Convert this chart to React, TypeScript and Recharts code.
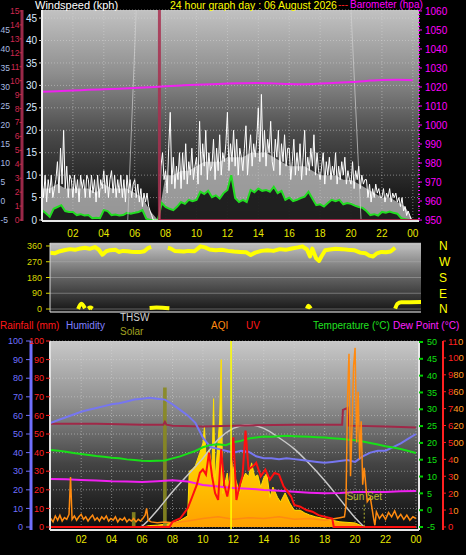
import React from "react";
import {
  ComposedChart,
  Line,
  Area,
  XAxis,
  YAxis,
  CartesianGrid,
  ReferenceLine,
  ReferenceArea,
} from "recharts";

const FONT = "'Liberation Sans', Arial, sans-serif";

// ---------- top panel: wind (kph) + barometer ----------
// gusts every 6 minutes
const gustKph = [
  9, 5, 10, 4, 9, 6, 10, 5, 7, 9, // 00
  13, 6, 16, 8, 20, 7, 12, 5, 10, 9, // 01
  5, 10, 6, 9, 4, 10, 7, 9, 5, 10, // 02
  9, 5, 10, 6, 9, 4, 10, 5, 9, 7, // 03
  11, 6, 10, 5, 9, 11, 6, 10, 5, 9, // 04
  6, 10, 5, 9, 4, 10, 6, 9, 5, 8, // 05
  9, 5, 8, 4, 7, 3, 6, 4, 6, 3, // 06
  2, 1, 0, 0, 0, 0, 0, 12, 15, 9, // 07
  11, 6, 16, 24, 8, 14, 7, 12, 9, 15, // 08
  7, 15, 9, 17, 8, 13, 10, 16, 9, 12, // 09
  14, 8, 22, 10, 17, 12, 20, 9, 15, 11, // 10
  12, 18, 9, 16, 11, 19, 10, 15, 13, 17, // 11
  24, 11, 17, 13, 20, 12, 18, 10, 16, 14, // 12
  11, 16, 21, 10, 15, 19, 12, 17, 14, 18, // 13
  25, 13, 28, 14, 20, 12, 18, 15, 22, 13, // 14
  11, 18, 14, 20, 10, 17, 13, 19, 12, 16, // 15
  16, 9, 13, 18, 10, 15, 11, 17, 9, 14, // 16
  20, 10, 14, 11, 16, 12, 19, 10, 15, 11, // 17
  9, 12, 15, 8, 13, 10, 14, 9, 12, 10, // 18
  15, 8, 12, 9, 13, 10, 14, 8, 11, 9, // 19
  8, 13, 7, 11, 9, 12, 7, 10, 8, 9, // 20
  9, 5, 8, 4, 7, 5, 8, 6, 7, 5, // 21
  5, 7, 4, 6, 5, 7, 4, 6, 5, 6, // 22
  4, 5, 3, 5, 2, 3, 1, 2, 1, 0, // 23
  0,
];
// wind speed every 30 minutes
const speedKph = [
  7, 7, 8, 7, 7, 7, 7, 6, 8, 7, 7, 7, 6, 5, 2, 0, 10, 10, 11, 11, 12, 13, 13, 13,
  14, 14, 14, 15, 15, 15, 14, 13, 12, 12, 12, 11, 10, 10, 10, 9, 9, 8, 7, 6, 5, 5,
  4, 3, 0,
];
// average wind every 15 minutes
const avgKph = [
  2.2, 1.5, 0.7, 2.5, 2.9, 3.3, 2.0, 1.8, 1.8, 1.1, 1.3, 1.0, 1.1, 0.4, 0.5, 0.4,
  2.2, 2.0, 1.1, 1.2, 1.0, 1.1, 1.6, 1.4, 1.6, 1.8, 2.2, 0.3, 0, 0, 0, 3.8,
  2.9, 2.5, 2.2, 3.0, 4.0, 3.6, 4.5, 4.2, 4.5, 6.3, 5.8, 6.5, 5.1, 5.5, 4.8, 6.0,
  6.7, 10.0, 4.9, 4.0, 4.5, 4.0, 6.7, 6.2, 7.0, 6.5, 6.7, 6.3, 7.4, 6.0, 6.5, 4.5,
  5.0, 4.2, 4.5, 4.9, 5.2, 6.3, 4.8, 3.3, 3.5, 3.0, 3.8, 4.5, 4.2, 4.5, 3.5, 3.8,
  3.6, 3.2, 2.9, 2.7, 2.0, 1.1, 1.3, 1.0, 1.8, 1.6, 1.9, 1.6, 1.4, 0.4, 0.2, 0,
  0,
];
const baroHpa = [
  1017.5, 1017.8, 1018.1, 1018.5, 1018.8, 1019.1, 1019.5, 1019.9, 1020.4, 1020.8,
  1021.2, 1021.5, 1021.8, 1022.0, 1022.1, 1021.9, 1021.6, 1021.5, 1021.8, 1022.2,
  1022.6, 1023.2, 1023.7, 1023.8, 1023.6,
];
const rainMarkHour = 7.6;
const rainLineHours = [7.5, 24.4];
const rainLineMm = [0, 0];
const windTicks = [0, 5, 10, 15, 20, 25, 30, 35, 40, 45];
const bftTicks = [0, 1, 2, 3, 4, 5, 6, 7, 8, 9, 10, 11, 12, 13, 14, 15];
const chillTicks = [-5, 0, 5, 10, 15, 20, 25, 30, 35, 40, 45];
const baroTicks = [950, 960, 970, 980, 990, 1000, 1010, 1020, 1030, 1040, 1050, 1060];
const hourTicks = [2, 4, 6, 8, 10, 12, 14, 16, 18, 20, 22, 24];

// ---------- middle panel: wind direction ----------
const dirHours = [
  0, 0.3, 0.65, 1.0, 1.3, 1.65, 2.0, 2.3, 2.6, 2.95, 3.2, 3.45, 3.7, 3.95, 4.3,
  4.55, 4.8, 5.1, 5.35, 5.6, 5.9, 6.2, 6.45, 6.65, 6.7, 7.75, 7.95, 8.2, 8.5, 8.8,
  9.1, 9.5, 9.9, 10.2, 10.5, 10.9, 11.3, 11.7, 12.1, 12.5, 12.9, 13.2, 13.5, 13.9,
  14.3, 14.7, 15.1, 15.5, 15.9, 16.3, 16.6, 16.9, 17.1, 17.25, 17.5, 17.7, 17.85,
  18.1, 18.4, 18.8, 19.2, 19.6, 20.0, 20.4, 20.75, 21.0, 21.25, 21.5, 21.8, 22.1,
  22.4, 22.7,
];
const dirDeg = [
  322, 318, 330, 337, 342, 338, 346, 350, 344, 354, 340, 310, 330, 336, 338,
  326, 332, 330, 327, 326, 325, 330, 348, 355, null, 350, 345, 332, 330, 328,
  332, 330, 358, 352, 340, 336, 338, 332, 328, 326, 324, 308, 322, 332,
  336, 332, 342, 338, 346, 352, 358, 340, 300, 345, 290, 275, 300,
  336, 340, 344, 342, 338, 336, 322, 318, 305, 300, 318, 326, 324,
  328, 350,
];
const dirLowHours = [
  1.85, 2.05, 2.3, 2.35, 2.5, 2.65, 2.8, 2.85, 6.55, 7.0, 7.4, 7.85, 7.9, 16.9,
  17.0, 17.15, 17.2, 22.7, 22.85, 23.1, 24.4,
];
const dirLowDeg = [
  0, 30, 5, null, 2, 8, 2, null, 6, 8, 7, 4, null, 2, 18, 3, null, 2, 30, 38, 40,
];
const dirTicks = [0, 90, 180, 270, 360];
const dirLetters = ["N", "E", "S", "W", "N"];

// ---------- bottom panel ----------
const humidityPct = [
  56, 57.5, 59, 60.5, 62, 63, 64, 65, 66, 66.5, 67.5, 68.5, 69, 69.5, 69, 68.5,
  66, 63, 60, 56, 48, 43, 42, 41, 40, 41, 40.5, 38, 37, 37, 36.5, 37, 36.5, 36,
  35.5, 35, 34.5, 35, 35.5, 36, 35, 38, 40, 41, 41, 43, 45, 47.5, 50,
];
const tempC = [
  17.9, 17.7, 17.4, 17.0, 16.7, 16.4, 16.1, 15.9, 15.6, 15.4, 15.1, 14.9, 14.7,
  14.6, 14.7, 14.8, 15.4, 16.0, 16.8, 17.6, 18.7, 19.4, 19.6, 19.3, 20.2, 20.6,
  21.3, 21.6, 21.9, 21.8, 22.0, 22.1, 22.0, 21.9, 21.8, 21.7, 21.6, 21.4, 21.2,
  21.0, 20.8, 20.4, 20.0, 19.5, 19.0, 18.6, 18.2, 17.6, 17.0,
];
const dewC = [
  9.3, 9.2, 9.0, 8.8, 8.6, 8.5, 8.4, 8.6, 8.9, 8.5, 7.5, 7.0, 6.6, 6.4, 6.0, 5.8,
  5.5, 5.2, 5.0, 5.1, 5.4, 5.4, 5.4, 5.6, 5.7,
];
const inHumHours = [0, 3, 6, 7.4, 7.5, 7.6, 8, 10, 12, 16, 19.15, 19.2, 19.5, 19.55, 22, 24];
const inHumPct = [55.5, 55.5, 55, 55, 56.5, 55, 54.5, 54, 54.5, 55, 55, 63, 64, 54.5, 54, 53.5];
const sunMaxHours = [5.9, 6, 7, 8, 9, 10, 11, 12, 13, 14, 15, 16, 17, 18, 19, 20, 20.6];
const sunMaxWm2 = [0, 5, 90, 190, 280, 370, 470, 530, 550, 530, 480, 420, 340, 250, 150, 50, 0];
const solarHours = [
  0, 6, 6.5, 7, 7.5, 8, 8.5, 9.0, 9.1, 9.3, 9.5, 9.8, 10.0, 10.1, 10.2, 10.4,
  10.6, 10.7, 10.8, 10.9, 11.1, 11.2, 11.3, 11.5, 11.6, 11.7, 11.9, 12.1, 12.3,
  12.4, 12.6, 12.8, 13.0, 13.2, 13.4, 13.6, 13.8, 14.0, 14.2, 14.4, 14.6, 14.9,
  15.1, 15.4, 15.7, 16.0, 16.4, 16.7, 17.0, 17.4, 17.8, 18.4, 19.0, 20.0, 20.6, 24,
];
const solarWm2 = [
  0, 0, 8, 10, 15, 20, 35, 60, 300, 310, 330, 400, 450, 540, 380, 415,
  320, 690, 250, 360, 575, 900, 180, 255, 290, 215, 360, 270, 215,
  183, 253, 290, 270, 345, 270, 280, 215, 265, 290, 160, 215, 160,
  135, 183, 130, 90, 90, 75, 65, 55, 48, 38, 28, 22, 0, 0,
];
const uvHours = [
  0, 7.8, 8, 8.5, 9, 9.3, 9.6, 9.8, 10, 10.2, 10.4, 10.6, 10.8, 11, 11.2, 11.4,
  11.6, 11.8, 12, 12.2, 12.4, 12.6, 12.8, 13, 13.3, 13.5, 13.8, 14.1, 14.4, 14.7,
  15, 15.3, 15.8, 16, 16.4, 16.8, 17.2, 17.6, 18, 18.5, 18.6, 24,
];
const uvIndex = [
  0, 0, 0.3, 0.5, 1.1, 1.8, 2.5, 3.2, 3.4, 3.1, 4.4, 3.0, 2.0, 1.6, 4.6, 2.5,
  1.8, 2.8, 5.3, 1.6, 2.4, 3.0, 5.7, 3.4, 3.6, 3.8, 3.0, 3.4, 2.8, 3.2,
  3.1, 2.4, 1.8, 1.3, 1.2, 1.0, 0.9, 0.7, 0.6, 0.5, 0, 0,
];
const aqiHours = [
  0, 0.15, 0.3, 0.45, 0.6, 0.75, 0.9, 1.05, 1.2, 1.3, 1.4, 1.55, 1.7, 1.85, 2.0,
  2.15, 2.3, 2.45, 2.6, 2.75, 2.9, 3.05, 3.2, 3.35, 3.5, 3.65, 3.8, 3.95, 4.1,
  4.25, 4.4, 4.55, 4.7, 4.85, 5.0, 5.15, 5.3, 5.45, 5.6, 5.75, 5.9, 6.05, 6.2,
  6.3, 6.4, 6.6, 7, 7.5, 8, 8.5, 9, 10, 11, 12, 13, 14, 15, 16, 17, 18, 19, 19.3,
  19.4, 19.5, 19.6, 19.7, 19.8, 19.9, 20.0, 20.1, 20.2, 20.3, 20.4, 20.5, 20.6,
  20.8, 21.0, 21.2, 21.3, 21.4, 21.6, 21.8, 22.0, 22.2, 22.4, 22.6, 22.8, 23.0,
  23.2, 23.4, 23.6, 23.8, 24,
];
const aqiValue = [
  10, 6, 13, 8, 14, 7, 11, 9, 15, 59, 9, 13, 8, 12, 15,
  9, 12, 7, 11, 14, 8, 11, 7, 12, 9, 13, 7, 10, 8,
  12, 6, 10, 8, 11, 6, 9, 7, 10, 6, 9, 7, 10, 14,
  22, 8, 6, 5, 6, 5, 6, 7, 10, 12, 9, 11, 10, 12, 9, 10, 8, 11, 12,
  25, 150, 205, 60, 120, 190, 212, 100, 160, 80, 125, 50, 70,
  30, 35, 12, 2, 18, 10, 15, 9, 17, 12, 19, 10, 15,
  9, 14, 8, 12, 10,
];
const solarMarkHours = [5.45, 7.5];
const solarMarkWm2 = [80, 750];
const noonHour = 11.85;
const sunsetHour = 20.6;
const pctTicks = [0, 10, 20, 30, 40, 50, 60, 70, 80, 90, 100];
const tempTicks = [-5, 0, 5, 10, 15, 20, 25, 30, 35, 40, 45, 50];
const uvTicks = [0, 1, 2, 3, 4, 5, 6, 7, 8, 9, 10, 11];
const aqiPerUv = 20;

const onGrid = (values: (number | null)[], step: number) =>
  values.map((v, i) => ({ h: i * step, v }));
const zip = (hours: number[], values: (number | null)[]) =>
  hours.map((h, i) => ({ h, v: values[i] }));

const gustData = onGrid(gustKph, 0.1);
const speedData = onGrid(speedKph, 0.5);
const avgData = onGrid(avgKph, 0.25);
const baroData = onGrid(baroHpa, 1);
const rainLineData = zip(rainLineHours, rainLineMm);
const dirData = zip(dirHours, dirDeg);
const dirLowData = zip(dirLowHours, dirLowDeg);
const humData = onGrid(humidityPct, 0.5);
const tempData = onGrid(tempC, 0.5);
const dewData = onGrid(dewC, 1);
const inHumData = zip(inHumHours, inHumPct);
const sunMaxData = zip(sunMaxHours, sunMaxWm2);
const solarData = zip(solarHours, solarWm2);
const uvData = zip(uvHours, uvIndex);
const aqiData = zip(aqiHours, aqiValue);

const hourLabel = (v: number) => String(v % 24).padStart(2, "0");
const tickFont = { fontSize: 10, fontFamily: FONT };
const smallFont = { fontSize: 8.5, fontFamily: FONT };

// recharts stacks same-side y axes by id order: "a…" sits next to the plot
function ChillTick(props: any) {
  const { x, y, payload } = props;
  return (
    <text x={x + 0.5} y={y} dy={3} textAnchor="start" fill="#a8bce0" {...smallFont}>
      {payload.value}
    </text>
  );
}

// UV index (red) printed over the front of the AQI scale value (orange)
function UvTick(props: any) {
  const { x, y, payload } = props;
  const uv = String(payload.value);
  const aqi = String(payload.value * aqiPerUv);
  return (
    <text x={x} y={y} dy={3.5} fontSize={9.5} fontFamily={FONT}>
      <tspan fill="#ff2020">{uv}</tspan>
      <tspan fill="#ff9a20">{aqi.slice(uv.length)}</tspan>
    </text>
  );
}

function Txt({ x, y, color, size = 10, children }: any) {
  return (
    <div
      style={{
        position: "absolute",
        left: x,
        top: y,
        color,
        fontSize: size,
        fontFamily: FONT,
        lineHeight: 1,
        whiteSpace: "nowrap",
      }}
    >
      {children}
    </div>
  );
}

function Gradient({ id, stops }: { id: string; stops: [number, string][] }) {
  return (
    <linearGradient id={id} x1="0" y1="0" x2="0" y2="1">
      {stops.map(([o, c]) => (
        <stop key={o} offset={o} stopColor={c} />
      ))}
    </linearGradient>
  );
}

function WindChart() {
  return (
    <ComposedChart width={466} height={245} margin={{ top: 10, right: 0, bottom: 0, left: -22 }}>
      <defs>
        <Gradient id="bg1" stops={[[0, "#c2c2c2"], [0.3, "#8e8e8e"], [0.6, "#484848"], [1, "#080808"]]} />
      </defs>
      <XAxis
        dataKey="h"
        type="number"
        domain={[0, 24.4]}
        ticks={hourTicks}
        tickFormatter={hourLabel}
        allowDataOverflow
        height={24}
        axisLine={{ stroke: "#e8e8e8", strokeWidth: 2 }}
        tickLine={false}
        tickSize={4}
        tickMargin={5}
        tick={{ fill: "#e8e800", ...tickFont }}
        interval={0}
      />
      <YAxis
        yAxisId="aWind"
        width={20}
        domain={[-0.22, 46.8]}
        ticks={windTicks}
        allowDataOverflow
        interval={0}
        axisLine={{ stroke: "#f0f0f0", strokeWidth: 2 }}
        tickLine={{ stroke: "#d0d0d0" }}
        tickSize={3}
        tickMargin={2}
        tick={{ fill: "#d8e8ff", ...tickFont }}
      />
      <YAxis
        yAxisId="bBft"
        width={22}
        domain={[-0.07, 15.07]}
        ticks={bftTicks}
        allowDataOverflow
        interval={0}
        axisLine={{ stroke: "#9a2848", strokeWidth: 3 }}
        tickLine={{ stroke: "#c03050" }}
        tickSize={2.5}
        tickMargin={0}
        tick={{ fill: "#d02850", ...smallFont }}
      />
      <YAxis
        yAxisId="cChill"
        width={22}
        domain={[-5.26, 50.3]}
        ticks={chillTicks}
        allowDataOverflow
        interval={0}
        axisLine={false}
        tickLine={false}
        tickSize={0}
        tickMargin={0}
        tick={<ChillTick />}
      />
      <YAxis
        yAxisId="dBaro"
        orientation="right"
        width={47}
        domain={[949.5, 1060.5]}
        ticks={baroTicks}
        allowDataOverflow
        interval={0}
        axisLine={{ stroke: "#ff00ff", strokeDasharray: "1 3", strokeWidth: 2 }}
        tickLine={{ stroke: "#ff00ff" }}
        tickSize={3}
        tickMargin={3}
        tick={{ fill: "#ff00ff", ...tickFont }}
      />
      <CartesianGrid
        yAxisId="aWind"
        fill="url(#bg1)"
        fillOpacity={1}
        stroke="#d8d8d8"
        strokeOpacity={0.5}
        strokeDasharray="1 2"
      />
      <ReferenceLine
        yAxisId="aWind"
        segment={[{ x: 5.55, y: 0 }, { x: 6.1, y: 46.8 }]}
        stroke="#d0d0d0"
        strokeOpacity={0.7}
      />
      <ReferenceLine
        yAxisId="aWind"
        segment={[{ x: 20.0, y: 46.8 }, { x: 20.65, y: 0 }]}
        stroke="#d0d0d0"
        strokeOpacity={0.7}
      />
      <Area
        yAxisId="aWind"
        data={speedData}
        dataKey="v"
        type="linear"
        stroke="none"
        fill="#c4c4c4"
        fillOpacity={0.75}
        isAnimationActive={false}
      />
      <Line
        yAxisId="aWind"
        data={gustData}
        dataKey="v"
        type="linear"
        stroke="#ffffff"
        strokeWidth={1}
        dot={false}
        isAnimationActive={false}
      />
      <Area
        yAxisId="aWind"
        data={avgData}
        dataKey="v"
        type="linear"
        stroke="#22dd22"
        strokeWidth={2}
        fill="#0a0a0a"
        fillOpacity={0.85}
        isAnimationActive={false}
      />
      <Line
        yAxisId="aWind"
        data={rainLineData}
        dataKey="v"
        stroke="#a02848"
        strokeWidth={2}
        dot={false}
        isAnimationActive={false}
      />
      <ReferenceLine yAxisId="aWind" x={rainMarkHour} stroke="#a83050" strokeOpacity={0.85} strokeWidth={3} />
      <Line
        yAxisId="dBaro"
        data={baroData}
        dataKey="v"
        type="monotone"
        stroke="#ee22ee"
        strokeWidth={2}
        dot={false}
        isAnimationActive={false}
      />
    </ComposedChart>
  );
}

function DirectionChart() {
  return (
    <ComposedChart width={466} height={78} margin={{ top: 5, right: 0, bottom: 3, left: 0 }}>
      <defs>
        <Gradient id="bg2" stops={[[0, "#c4c4c4"], [0.45, "#6a6a6a"], [1, "#141414"]]} />
      </defs>
      <XAxis
        dataKey="h"
        type="number"
        domain={[0, 24.4]}
        allowDataOverflow
        height={1}
        tick={false}
        tickLine={false}
        axisLine={{ stroke: "#d0d0d0" }}
      />
      <YAxis
        yAxisId="aDir"
        width={50}
        domain={[-17, 377]}
        ticks={dirTicks}
        allowDataOverflow
        interval={0}
        axisLine={{ stroke: "#d8d8d8" }}
        tickLine={{ stroke: "#d8d800" }}
        tickSize={4}
        tickMargin={4}
        tick={{ fill: "#d8d800", fontSize: 9, fontFamily: FONT }}
      />
      <YAxis
        yAxisId="bCompass"
        orientation="right"
        width={45}
        domain={[-17, 377]}
        ticks={dirTicks}
        tickFormatter={(v: number) => dirLetters[dirTicks.indexOf(v)]}
        allowDataOverflow
        interval={0}
        axisLine={false}
        tickLine={false}
        tickMargin={12}
        tick={{ fill: "#ffff00", fontSize: 12, fontFamily: FONT }}
      />
      <CartesianGrid
        yAxisId="aDir"
        vertical={false}
        fill="url(#bg2)"
        fillOpacity={1}
        stroke="#b0b0b0"
        strokeOpacity={0.5}
      />
      <Line
        yAxisId="aDir"
        data={dirData}
        dataKey="v"
        stroke="#ffff00"
        strokeWidth={4}
        strokeLinejoin="round"
        dot={false}
        isAnimationActive={false}
      />
      <Line
        yAxisId="aDir"
        data={dirLowData}
        dataKey="v"
        type="monotone"
        stroke="#ffff00"
        strokeWidth={4}
        dot={false}
        isAnimationActive={false}
      />
    </ComposedChart>
  );
}

function WeatherChart() {
  return (
    <ComposedChart width={466} height={219} margin={{ top: 5, right: 0, bottom: 0, left: 0 }}>
      <defs>
        <Gradient id="bg3" stops={[[0, "#c8c8c8"], [0.35, "#8c8c8c"], [0.65, "#444444"], [1, "#0c0c0c"]]} />
        <Gradient id="solarFill" stops={[[0, "#ffff20"], [0.55, "#ffd800"], [1, "#ffa000"]]} />
      </defs>
      <XAxis
        dataKey="h"
        type="number"
        domain={[-0.05, 24.2]}
        ticks={hourTicks}
        tickFormatter={hourLabel}
        allowDataOverflow
        height={25}
        axisLine={{ stroke: "#e8e8e8", strokeWidth: 2 }}
        tickLine={false}
        tickSize={4}
        tickMargin={2}
        tick={{ fill: "#e8e800", ...tickFont }}
        interval={0}
      />
      <YAxis
        yAxisId="aRain"
        width={19}
        domain={[-1.6, 100]}
        ticks={pctTicks}
        allowDataOverflow
        interval={0}
        axisLine={{ stroke: "#e0e0e0", strokeWidth: 2 }}
        tickLine={{ stroke: "#ff2020" }}
        tickSize={4}
        tickMargin={2}
        tick={{ fill: "#ff2020", fontSize: 9, fontFamily: FONT }}
      />
      <YAxis
        yAxisId="bHum"
        width={31}
        domain={[-1.6, 100]}
        ticks={pctTicks}
        allowDataOverflow
        interval={0}
        axisLine={{ stroke: "#7070ff", strokeWidth: 3 }}
        tickLine={{ stroke: "#7070ff" }}
        tickSize={5}
        tickMargin={3}
        tick={{ fill: "#7070ff", fontSize: 9, fontFamily: FONT }}
      />
      <YAxis
        yAxisId="cTemp"
        orientation="right"
        width={24}
        domain={[-5.9, 50.3]}
        ticks={tempTicks}
        allowDataOverflow
        interval={0}
        axisLine={{ stroke: "#e8e8e8", strokeWidth: 2 }}
        tickLine={{ stroke: "#00d000", strokeWidth: 2 }}
        tickSize={4}
        tickMargin={4}
        tick={{ fill: "#10e010", fontSize: 9, fontFamily: FONT }}
      />
      <YAxis
        yAxisId="dUv"
        orientation="right"
        width={23}
        domain={[-0.18, 11]}
        ticks={uvTicks}
        allowDataOverflow
        interval={0}
        axisLine={{ stroke: "#ff2020", strokeWidth: 2 }}
        tickLine={{ stroke: "#ff2020" }}
        tickSize={3}
        tickMargin={2}
        tick={<UvTick />}
      />
      <YAxis yAxisId="zSolar" hide domain={[-16, 1000]} allowDataOverflow />
      <YAxis yAxisId="zAqi" hide domain={[-3.6, 220]} allowDataOverflow />
      <CartesianGrid
        yAxisId="bHum"
        fill="url(#bg3)"
        fillOpacity={1}
        stroke="#d8d8d8"
        strokeOpacity={0.5}
        strokeDasharray="1 2"
      />
      <Area
        yAxisId="zSolar"
        data={solarData}
        dataKey="v"
        type="linear"
        stroke="#ffe000"
        strokeWidth={1}
        fill="url(#solarFill)"
        fillOpacity={1}
        isAnimationActive={false}
      />
      {solarMarkHours.map((h, i) => (
        <ReferenceArea
          key={h}
          yAxisId="zSolar"
          x1={h - 0.12}
          x2={h + 0.12}
          y1={0}
          y2={solarMarkWm2[i]}
          fill="#8a8a20"
          fillOpacity={0.9}
          stroke="none"
        />
      ))}
      <Line
        yAxisId="zSolar"
        data={sunMaxData}
        dataKey="v"
        type="monotone"
        stroke="#c8c8c8"
        strokeWidth={1.5}
        dot={false}
        isAnimationActive={false}
      />
      <Line
        yAxisId="bHum"
        data={inHumData}
        dataKey="v"
        type="linear"
        stroke="#a02848"
        strokeWidth={2}
        dot={false}
        isAnimationActive={false}
      />
      <Line
        yAxisId="bHum"
        data={humData}
        dataKey="v"
        type="linear"
        stroke="#7676f0"
        strokeWidth={2}
        dot={false}
        isAnimationActive={false}
      />
      <Line
        yAxisId="cTemp"
        data={tempData}
        dataKey="v"
        type="linear"
        stroke="#18e018"
        strokeWidth={2}
        dot={false}
        isAnimationActive={false}
      />
      <Line
        yAxisId="cTemp"
        data={dewData}
        dataKey="v"
        type="linear"
        stroke="#f020f0"
        strokeWidth={2}
        dot={false}
        isAnimationActive={false}
      />
      <Line
        yAxisId="zAqi"
        data={aqiData}
        dataKey="v"
        type="linear"
        stroke="#ff8a10"
        strokeWidth={1.5}
        dot={false}
        isAnimationActive={false}
      />
      <Line
        yAxisId="dUv"
        data={uvData}
        dataKey="v"
        type="linear"
        stroke="#ff1010"
        strokeWidth={2}
        dot={false}
        isAnimationActive={false}
      />
      <ReferenceLine yAxisId="bHum" x={noonHour} stroke="#ffff00" strokeWidth={1.5} />
      <ReferenceLine
        yAxisId="zSolar"
        segment={[{ x: sunsetHour, y: 120 }, { x: sunsetHour, y: 0 }]}
        stroke="#b8b830"
        strokeDasharray="2 2"
        label={{ value: "Sun Set", position: "top", fill: "#b8b830", fontSize: 10, fontFamily: FONT }}
      />
    </ComposedChart>
  );
}

export default function App() {
  return (
    <div
      style={{
        position: "fixed",
        left: 0,
        top: 0,
        width: 466,
        height: 555,
        background: "#000",
        overflow: "hidden",
      }}
    >
      <div style={{ position: "absolute", left: 0, top: 0 }}>
        <WindChart />
      </div>
      <div style={{ position: "absolute", left: 0, top: 238 }}>
        <DirectionChart />
      </div>
      <div style={{ position: "absolute", left: 0, top: 336 }}>
        <WeatherChart />
      </div>

      <Txt x={35} y={0} size={11} color="#ffffff">Windspeed (kph)</Txt>
      <Txt x={170} y={0} size={10.5} color="#ffff00">24 hour graph day : 06 August 2026</Txt>
      <Txt x={338} y={0} size={10} color="#ff2020">---</Txt>
      <Txt x={350} y={0} size={10} color="#ff00ff">Barometer (hpa)</Txt>

      <Txt x={0} y={321} color="#ff1818">Rainfall (mm)</Txt>
      <Txt x={66} y={321} color="#8080ff">Humidity</Txt>
      <Txt x={120} y={313} color="#d0d0d0">THSW</Txt>
      <Txt x={120} y={327} color="#a0a020">Solar</Txt>
      <Txt x={211} y={321} color="#ff8a10">AQI</Txt>
      <Txt x={246} y={321} color="#ff1818">UV</Txt>
      <Txt x={313} y={321} color="#20e020">Temperature (°C)</Txt>
      <Txt x={393} y={321} color="#ff20ff">Dew Point (°C)</Txt>
    </div>
  );
}
